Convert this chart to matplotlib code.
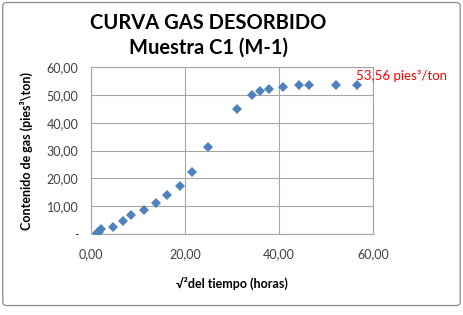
#!/usr/bin/env python3
# -*- coding: utf-8 -*-

import matplotlib
matplotlib.use("Agg")
from matplotlib import pyplot as plt
from matplotlib.patches import FancyBboxPatch
from matplotlib.ticker import FuncFormatter, MultipleLocator

# sqrt of time (hours) vs desorbed gas (pies3/ton)
raiz_tiempo = [1.3, 1.7, 2.1, 4.6, 6.9, 8.6, 11.3, 13.9, 16.2, 19.0, 21.4,
               24.8, 31.1, 34.3, 36.0, 37.8, 40.8, 44.3, 46.4, 52.1, 56.6]
gas = [0.25, 0.8, 1.7, 2.6, 4.7, 6.9, 8.5, 11.2, 13.9, 17.4, 22.4,
       31.4, 45.0, 49.9, 51.4, 52.0, 52.8, 53.4, 53.7, 53.7, 53.56]
etiqueta_final = "53,56 pies³/ton"

plt.rcParams['font.family'] = ['Lato', 'DejaVu Sans']


def fmt(v, pos):
    if abs(v) < 1e-9:
        return "-"
    return "{:.2f}".format(v).replace(".", ",")


def main():
    fig = plt.figure(figsize=(4.63, 3.15), dpi=100)
    fig.patch.set_facecolor("white")
    border = FancyBboxPatch((0.006, 0.03), 0.988, 0.962,
                            boxstyle="round,pad=0,rounding_size=0.01",
                            transform=fig.transFigure, fill=False,
                            edgecolor="#8c8c8c", linewidth=0.9)
    fig.patches.append(border)

    ax = fig.add_axes([0.1965, 0.257, 0.6095, 0.530])
    ax.plot(raiz_tiempo, gas, linestyle="none", marker="D", markersize=5,
            color="#4f81bd", markeredgewidth=0, zorder=3)
    ax.set_xlim(0, 60)
    ax.set_ylim(0, 60)
    ax.xaxis.set_major_locator(MultipleLocator(20))
    ax.yaxis.set_major_locator(MultipleLocator(10))
    ax.xaxis.set_major_formatter(FuncFormatter(lambda v, p: "{:.2f}".format(v).replace(".", ",")))
    ax.yaxis.set_major_formatter(FuncFormatter(fmt))
    ax.grid(True, color="#a6a6a6", linewidth=0.8)
    ax.set_axisbelow(True)
    for s in ax.spines.values():
        s.set_color("#a6a6a6")
        s.set_linewidth(0.8)
    ax.tick_params(axis="both", length=0, labelsize=9, colors="#404040")
    ax.tick_params(axis="y", pad=9)
    ax.tick_params(axis="x", pad=10)

    ax.set_xlabel("√²del tiempo (horas)", fontsize=9, fontweight="bold", labelpad=12)
    ax.set_ylabel("Contenido de gas (pies³\\ton)", fontsize=9, fontweight="bold", labelpad=10)

    ax.text(raiz_tiempo[-1] - 0.2, gas[-1] + 3.4, etiqueta_final, color="#ff0000",
            fontsize=9.5, ha="left", va="center", clip_on=False)

    fig.text(0.45, 0.927, "CURVA GAS DESORBIDO", ha="center", va="center",
             fontsize=14.5, fontweight="bold")
    fig.text(0.45, 0.848, "Muestra C1 (M-1)", ha="center", va="center",
             fontsize=14.5, fontweight="bold")

    fig.savefig("out.png", dpi=100)


if __name__ == "__main__":
    main()
